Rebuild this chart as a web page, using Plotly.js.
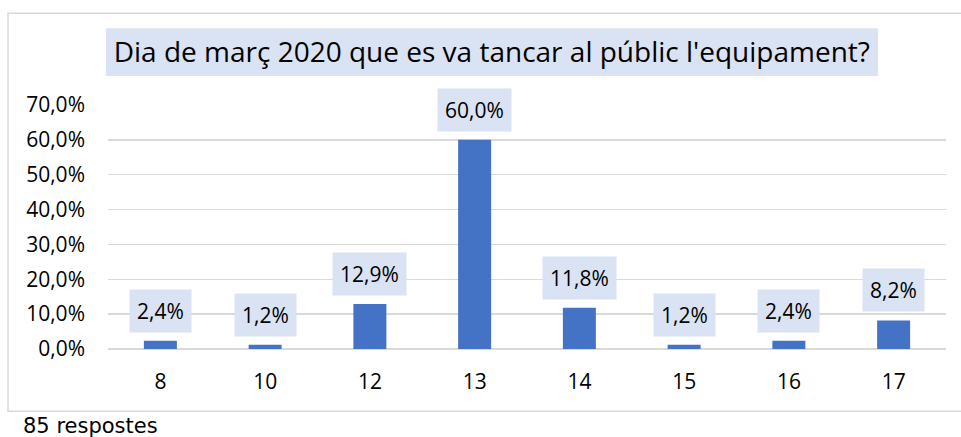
<!DOCTYPE html>
<html>
<head>
<meta charset="utf-8">
<script src="https://cdn.plot.ly/plotly-3.0.1.min.js"></script>
<style>
html,body{margin:0;padding:0;background:#fff;}
#chart{width:961px;height:437px;}
</style>
</head>
<body>
<div id="chart"></div>
<script>
var categories = ['8', '10', '12', '13', '14', '15', '16', '17'];
var percentages = [0.024, 0.012, 0.129, 0.600, 0.118, 0.012, 0.024, 0.082];
var yTickValues = [0, 0.1, 0.2, 0.3, 0.4, 0.5, 0.6, 0.7];
var chartTitle = "Dia de març 2020 que es va tancar al públic l'equipament?";
var footnote = '85 respostes';

var FONT = '"Open Sans", "Noto Sans", sans-serif';

function fmt(v) {
  return (v * 100).toFixed(1).replace('.', ',') + '%';
}

var trace = {
  type: 'bar',
  x: categories,
  y: percentages,
  marker: {color: '#4472c4'},
  hoverinfo: 'skip'
};

var annotations = categories.map(function (c, i) {
  return {
    x: i, y: percentages[i], xref: 'x', yref: 'y',
    text: fmt(percentages[i]),
    showarrow: false,
    yanchor: 'bottom',
    yshift: 8,
    bgcolor: '#dae3f3',
    borderpad: 7,
    font: {family: FONT, size: 21, color: '#000'}
  };
});

annotations.push({
  xref: 'paper', yref: 'paper',
  x: -0.1038, y: -0.259,
  xanchor: 'left', yanchor: 'top',
  text: footnote,
  showarrow: false,
  font: {family: '"DejaVu Sans", Verdana, sans-serif', size: 21, color: '#000'}
});

var layout = {
  width: 961, height: 437,
  margin: {l: 108, r: 15, t: 105, b: 87.5},
  paper_bgcolor: '#ffffff',
  plot_bgcolor: '#ffffff',
  separators: ',.',
  bargap: 0.685,
  showlegend: false,
  title: {
    text: chartTitle,
    font: {family: FONT, size: 28, color: '#000'},
    xref: 'paper', x: 0.458, xanchor: 'center',
    yref: 'container', y: 0.881, yanchor: 'middle'
  },
  xaxis: {
    type: 'category',
    range: [-0.5, categories.length - 0.5],
    showgrid: false,
    zeroline: false,
    showline: false,
    ticks: '',
    ticklabelstandoff: 18,
    tickfont: {family: FONT, size: 21, color: '#000'}
  },
  yaxis: {
    range: [0, 0.7],
    tickvals: yTickValues,
    tickformat: '.1%',
    showgrid: true,
    gridcolor: '#d9d9d9',
    gridwidth: 1.5,
    zeroline: true,
    zerolinecolor: '#d9d9d9',
    zerolinewidth: 1.5,
    showline: false,
    ticks: '',
    ticklabelstandoff: 22,
    tickfont: {family: FONT, size: 21, color: '#000'}
  },
  shapes: [
    {
      type: 'rect', xref: 'paper', yref: 'paper', layer: 'below',
      x0: -0.1193, x1: 1.05, y0: -0.2556, y1: 1.376,
      line: {color: '#d9d9d9', width: 1.5},
      fillcolor: 'rgba(0,0,0,0)'
    },
    {
      type: 'rect', xref: 'paper', yref: 'paper', layer: 'below',
      x0: -0.0024, x1: 0.9189, y0: 1.1186, y1: 1.315,
      line: {width: 0},
      fillcolor: '#dae3f3'
    }
  ],
  annotations: annotations
};

Plotly.newPlot('chart', [trace], layout, {displayModeBar: false, staticPlot: true});
</script>
</body>
</html>
